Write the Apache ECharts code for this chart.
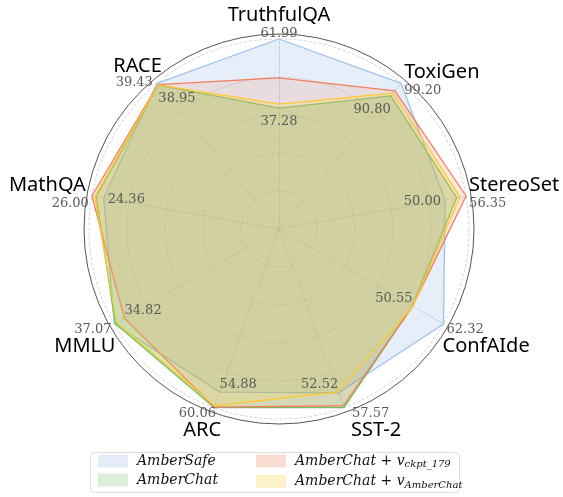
<!DOCTYPE html>
<html>
<head>
<meta charset="utf-8">
<script src="https://cdn.jsdelivr.net/npm/echarts@6/dist/echarts.min.js"></script>
<style>
html, body { margin: 0; padding: 0; background: #fff; }
#main { width: 563px; height: 497px; }
</style>
</head>
<body>
<div id="main"></div>
<script>
// benchmarks, clockwise from the top
var benchmarks = ['TruthfulQA', 'ToxiGen', 'StereoSet', 'ConfAIde', 'SST-2', 'ARC', 'MMLU', 'MathQA', 'RACE'];
var axisLow = [-6, 0, 0, 0, 0, 0, 0, 0, 0];
var axisHigh = [61.99, 99.20, 56.35, 62.32, 57.57, 60.06, 37.07, 26.00, 39.43];
var axisLowLabel = [37.28, 90.80, 50.00, 50.55, 52.52, 54.88, 34.82, 24.36, 38.95];

var amberSafe = [61.99, 99.20, 50.00, 62.32, 52.8, 54.88, 37.07, 24.36, 39.43];
var amberChat = [37.28, 90.80, 53.5, 50.55, 57.57, 60.06, 36.9, 25.4, 38.95];
var chatCkpt = [48.1, 94.2, 56.35, 50.6, 57.0, 59.9, 34.82, 26.00, 39.1];
var chatAmber = [38.7, 92.6, 54.5, 50.7, 52.52, 59.5, 36.6, 25.6, 39.05];

var seriesNames = ['AmberSafe', 'AmberChat', 'AmberChat + v_ckpt_179', 'AmberChat + v_AmberChat'];
var lineColors = ['#a0c4ec', '#6cc46a', '#f47c5a', '#ffc828'];
var fillColors = ['#8cb4e4', '#5abe50', '#f08c6e', '#ffd250'];
var fillAlpha = [0.22, 0.3, 0.2, 0.2];
var swatchColors = ['#e3ecf8', '#daefd6', '#fbdcd2', '#fdf1c8'];

// echarts puts radar indicators counter-clockwise
function toRadar(a) { return [a[0]].concat(a.slice(1).reverse()); }

var chart = echarts.init(document.getElementById('main'));

var lows = toRadar(axisLow), highs = toRadar(axisHigh);
var indicators = toRadar(benchmarks).map(function (n, k) {
    return { name: n, min: lows[k], max: highs[k] };
});

var series = [amberSafe, amberChat, chatCkpt, chatAmber].map(function (vals, k) {
    return {
        type: 'radar',
        radarIndex: 0,
        name: seriesNames[k],
        symbol: 'none',
        silent: true,
        lineStyle: { color: lineColors[k], width: 1.3 },
        areaStyle: { color: fillColors[k], opacity: fillAlpha[k] },
        itemStyle: { color: lineColors[k] },
        data: [{ name: seriesNames[k], value: toRadar(vals) }]
    };
});

function legendText(n) {
    var p = n.split(' + v_');
    if (p.length > 1) return '{g|}{i|' + p[0] + '}{o| + }{i|v}{s|' + p[1] + '}';
    return '{g|}{i|' + n + '}';
}

var legendRich = {
    g: { width: 4 },
    i: { fontFamily: 'DejaVu Serif', fontStyle: 'italic', fontSize: 14, color: '#111', lineHeight: 17 },
    o: { fontFamily: 'DejaVu Serif', fontSize: 14, color: '#111', lineHeight: 17 },
    s: { fontFamily: 'DejaVu Serif', fontStyle: 'italic', fontSize: 10, color: '#111', lineHeight: 10, verticalAlign: 'bottom' }
};

function makeLegend(left, idx) {
    return {
        left: left,
        top: 449,
        height: 60,
        orient: 'vertical',
        itemWidth: 30,
        itemHeight: 13,
        itemGap: 5,
        padding: 5,
        selectedMode: false,
        itemStyle: { borderWidth: 0 },
        data: idx.map(function (k) {
            return { name: seriesNames[k], icon: 'rect', itemStyle: { color: swatchColors[k], borderWidth: 0 } };
        }),
        formatter: legendText,
        textStyle: { rich: legendRich }
    };
}

var option = {
    animation: false,
    radar: [{
        center: [279, 229],
        radius: 190,
        startAngle: 90,
        shape: 'circle',
        splitNumber: 5,
        indicator: indicators,
        axisName: { show: false },
        axisLine: { lineStyle: { color: '#c8c8c8', type: [3, 2], width: 0.8 } },
        splitLine: { lineStyle: { color: '#c8c8c8', type: [3, 2], width: 0.8 } },
        splitArea: { show: false },
        axisTick: { show: false },
        axisLabel: { show: false }
    }, {
        center: [279, 229],
        radius: 195,
        startAngle: 90,
        shape: 'circle',
        splitNumber: 1,
        indicator: benchmarks.map(function () { return { max: 1 }; }),
        axisName: { show: false },
        axisLine: { show: false },
        splitLine: { lineStyle: { color: '#555', width: 1 } },
        splitArea: { show: false },
        axisTick: { show: false },
        axisLabel: { show: false }
    }],
    legend: [makeLegend(93, [0, 1]), makeLegend(251, [2, 3])],
    series: series
};

chart.setOption(option);

// axis names and min / max tick labels, placed at points from the radar scale
var radar = chart.getModel().getComponent('radar', 0).coordinateSystem;
var valueFont = '13px "DejaVu Serif"';
var nameFont = '20px "Noto Sans"';
var grey = '#5a5a5a';
var texts = [];

function addText(str, x, y, font, color, align, va) {
    texts.push({
        type: 'text', x: x, y: y, z: 10, silent: true,
        style: { text: str, font: font, fill: color, align: align, verticalAlign: va, textAlign: align, textVerticalAlign: va }
    });
}

benchmarks.forEach(function (name, i) {
    var j = i === 0 ? 0 : benchmarks.length - i;
    var hi = radar.dataToPoint(axisHigh[i], j);
    var lo = radar.dataToPoint(axisLowLabel[i], j);
    var s = (hi[0] - radar.cx) / radar.r;
    var c = (radar.cy - hi[1]) / radar.r;
    var side = Math.abs(s) < 0.1 ? 0 : (s > 0 ? 1 : -1);
    var outAlign = side === 0 ? 'center' : (side > 0 ? 'left' : 'right');
    var inAlign = side === 0 ? 'center' : (side > 0 ? 'right' : 'left');
    var hiText = axisHigh[i].toFixed(2), loText = axisLowLabel[i].toFixed(2);

    if (side === 0) {
        addText(hiText, hi[0], hi[1] + 1, valueFont, grey, 'center', 'bottom');
        addText(name, hi[0], hi[1] - 14, nameFont, '#000', 'center', 'bottom');
    } else if (c > 0.5 && side < 0) {
        addText(hiText, hi[0] - 4, hi[1] - 1, valueFont, grey, outAlign, 'middle');
        addText(name, hi[0] + 5, hi[1] - 7, nameFont, '#000', outAlign, 'bottom');
    } else if (c > 0) {
        addText(hiText, hi[0] + 3 * side, hi[1] + 1, valueFont, grey, outAlign, 'top');
        addText(name, hi[0] + (side > 0 ? 3 : -6), hi[1] - 1, nameFont, '#000', outAlign, 'bottom');
    } else if (c < -0.8) {
        addText(hiText, hi[0] + 3 * side + 5, hi[1], valueFont, grey, outAlign, 'top');
        addText(name, hi[0] + 7, hi[1] + 13, nameFont, '#000', outAlign, 'top');
    } else {
        addText(hiText, hi[0] + 3 * side, hi[1] - 1, valueFont, grey, outAlign, 'top');
        addText(name, hi[0] - side, hi[1] + 12, nameFont, '#000', outAlign, 'top');
    }

    if (c > 0.3) {
        addText(loText, lo[0], lo[1] + 7, valueFont, grey, inAlign, 'top');
    } else if (c < -0.3) {
        addText(loText, lo[0], lo[1] - 1, valueFont, grey, inAlign, 'bottom');
    } else {
        addText(loText, lo[0] - 4 * side, lo[1] + 2, valueFont, grey, inAlign, 'middle');
    }
});

// legend frame
texts.push({
    type: 'rect', z: 1, silent: true,
    shape: { x: 90.5, y: 452.5, width: 369, height: 40, r: 4 },
    style: { fill: '#fff', stroke: '#dcdcdc', lineWidth: 1 }
});

chart.setOption({ graphic: texts });
</script>
</body>
</html>
